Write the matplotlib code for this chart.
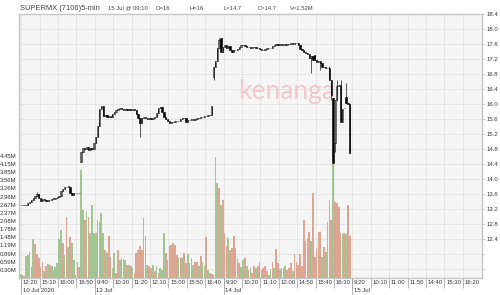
import matplotlib
matplotlib.use('Agg')
import matplotlib.pyplot as plt
from matplotlib.transforms import ScaledTranslation
import numpy as np

plt.rcParams['font.family'] = ['Liberation Sans', 'DejaVu Sans']

# ---- data: 5-min bars, 10 Jul 12:15 .. 15 Jul 09:10 ----
open_px = [
    # 10 Jul
    13.30, 13.32, 13.30, 13.30, 13.32, 13.36, 13.40, 13.44, 13.50, 13.54,
    13.60, 13.50, 13.42, 13.48, 13.44, 13.42, 13.44, 13.44, 13.48, 13.48,
    13.50, 13.52, 13.56, 13.68, 13.74, 13.78, 13.80, 13.80, 13.64, 13.58,
    13.62, 13.64, 13.62,
    # 13 Jul
    14.46, 14.72, 14.82, 14.80, 14.86, 14.78, 14.82, 14.80, 14.96, 15.12,
    15.42, 15.88, 15.94, 15.68, 15.70, 15.66, 15.68, 15.66, 15.74, 15.78,
    15.84, 15.86, 15.90, 15.86, 15.84, 15.86, 15.84, 15.86, 15.84, 15.86,
    15.84, 15.74, 15.62, 15.50, 15.62, 15.66, 15.62, 15.60, 15.62, 15.60,
    15.62, 15.66, 15.76, 15.90, 15.92, 15.78, 15.66, 15.60, 15.54, 15.50,
    15.52, 15.52, 15.54, 15.54, 15.56, 15.60, 15.62, 15.62, 15.52, 15.58,
    15.58, 15.60, 15.58, 15.60, 15.62, 15.62, 15.66, 15.66, 15.68, 15.68,
    15.70, 15.70,
    # 14 Jul
    16.72, 17.00, 17.16, 17.50, 17.76, 17.38, 17.52, 17.58, 17.50, 17.54,
    17.44, 17.38, 17.44, 17.44, 17.46, 17.52, 17.58, 17.58, 17.54, 17.52,
    17.52, 17.50, 17.52, 17.52, 17.50, 17.50, 17.46, 17.44, 17.44, 17.46,
    17.50, 17.50, 17.50, 17.54, 17.58, 17.60, 17.58, 17.60, 17.58, 17.60,
    17.58, 17.60, 17.60, 17.62, 17.60, 17.62, 17.62, 17.58, 17.46, 17.44,
    17.38, 17.36, 17.34, 17.22, 17.28, 17.30, 17.18, 17.12, 17.14, 17.10,
    17.00, 16.98, 16.96, 16.96, 16.64, 16.16, 14.96, 16.10, 16.48, 16.52,
    15.52, 15.90,
    # 15 Jul
    16.18, 16.02, 16.00,
]
close_px = [
    # 10 Jul
    13.32, 13.30, 13.30, 13.32, 13.36, 13.40, 13.44, 13.50, 13.54, 13.60,
    13.50, 13.42, 13.48, 13.44, 13.42, 13.44, 13.44, 13.48, 13.48, 13.50,
    13.52, 13.56, 13.68, 13.74, 13.78, 13.80, 13.80, 13.64, 13.58, 13.62,
    13.64, 13.62, 13.62,
    # 13 Jul
    14.72, 14.82, 14.80, 14.86, 14.78, 14.82, 14.80, 14.96, 15.12, 15.42,
    15.88, 15.94, 15.68, 15.70, 15.66, 15.68, 15.66, 15.74, 15.78, 15.84,
    15.86, 15.90, 15.86, 15.84, 15.86, 15.84, 15.86, 15.84, 15.86, 15.84,
    15.74, 15.62, 15.50, 15.62, 15.66, 15.62, 15.60, 15.62, 15.60, 15.62,
    15.66, 15.76, 15.90, 15.92, 15.78, 15.66, 15.60, 15.54, 15.50, 15.52,
    15.52, 15.54, 15.54, 15.56, 15.60, 15.62, 15.62, 15.52, 15.58, 15.58,
    15.60, 15.58, 15.60, 15.62, 15.62, 15.66, 15.66, 15.68, 15.68, 15.70,
    15.70, 15.94,
    # 14 Jul
    17.00, 17.16, 17.50, 17.70, 17.38, 17.52, 17.58, 17.50, 17.54, 17.44,
    17.38, 17.44, 17.44, 17.46, 17.52, 17.58, 17.58, 17.54, 17.52, 17.52,
    17.50, 17.52, 17.52, 17.50, 17.50, 17.46, 17.44, 17.44, 17.46, 17.50,
    17.50, 17.50, 17.54, 17.58, 17.60, 17.58, 17.60, 17.58, 17.60, 17.58,
    17.60, 17.60, 17.62, 17.60, 17.62, 17.62, 17.58, 17.46, 17.44, 17.38,
    17.36, 17.34, 17.22, 17.28, 17.18, 17.18, 17.12, 17.14, 17.10, 17.00,
    16.98, 16.96, 16.96, 16.64, 16.24, 14.44, 16.10, 16.48, 16.52, 15.52,
    15.88, 15.90,
    # 15 Jul
    16.02, 16.00, 14.70,
]
# bars whose high/low reach past the body: index -> (high, low)
wicks = {9: (13.66, 13.54), 65: (15.62, 15.12), 105: (17.00, 16.64),
         108: (17.76, 17.50), 158: (17.28, 16.82), 163: (17.14, 16.90),
         168: (17.02, 16.64), 169: (16.64, 16.10), 170: (16.16, 14.43),
         171: (16.10, 14.72), 172: (16.64, 16.10), 174: (16.64, 15.52),
         177: (16.56, 16.02), 179: (16.00, 14.70)}

vol_m = [
    # 10 Jul
    0.14, 0.12, 0.09, 0.81, 0.85, 0.96, 0.39, 1.41, 1.24, 0.88,
    0.72, 0.39, 0.60, 0.27, 0.42, 0.51, 0.47, 0.44, 0.30, 0.39,
    0.54, 1.41, 1.73, 1.27, 0.85, 2.21, 1.14, 1.48, 1.29, 0.66,
    0.12, 0.60, 0.39,
    # 13 Jul
    3.93, 2.48, 2.11, 2.42, 2.23, 1.63, 2.66, 1.63, 1.63, 2.11,
    2.05, 2.36, 1.63, 1.02, 0.90, 1.51, 0.78, 0.36, 0.90, 0.18,
    1.02, 0.66, 0.72, 0.69, 0.66, 0.48, 0.48, 0.42, 0.36, 0.18,
    0.90, 1.02, 1.15, 1.02, 2.20, 1.51, 0.48, 0.42, 0.36, 0.48,
    0.24, 0.42, 0.18, 0.36, 0.30, 1.63, 0.90, 0.66, 1.15, 1.20,
    1.27, 1.20, 0.84, 0.72, 0.78, 0.72, 0.90, 0.54, 0.88, 0.54,
    0.72, 0.48, 0.60, 0.57, 0.45, 0.81, 0.60, 0.45, 1.49, 0.30,
    0.20, 0.15,
    # 14 Jul
    0.10, 4.41, 3.45, 3.27, 2.66, 2.84, 1.63, 1.15, 1.45, 1.02,
    1.08, 1.51, 1.08, 0.72, 0.54, 0.39, 0.66, 0.72, 0.42, 0.30,
    0.39, 0.18, 0.42, 0.36, 0.42, 0.60, 0.30, 0.36, 0.42, 0.24,
    0.12, 0.30, 0.60, 0.36, 1.05, 0.54, 0.33, 0.36, 0.36, 0.42,
    0.30, 0.36, 0.54, 0.24, 0.88, 0.60, 0.48, 0.88, 0.42, 2.11,
    1.33, 1.45, 1.69, 1.33, 3.08, 0.78, 1.08, 1.69, 1.69, 0.78,
    1.14, 0.96, 2.02, 2.84, 2.11, 4.18, 2.78, 2.72, 2.60, 1.63,
    1.60, 1.63,
    # 15 Jul
    1.60, 2.66, 1.52,
]
# G = up volume, S = down volume
vol_dir = ("GSSGGGSGSSSSSGSGSGSGGGGSGSGSGGSGS"
           "GGSGSGGGGSGGGSGSSGGSSGGSGSGSGSSSSSSSGSSGSGSGGGSSSSSSSGSGSSGSSGSSGSGGSGS"
           "SGGGSGSSSGSSSSGSGGSGSGSSGSSGSSSGGSGSSGSSGSSSGSSSSSSGSSGSSSSSGSGSGSGSSS"
           "SGS")

time_labels = ['12:20', '15:10', '16:00', '16:50', '9:40', '10:30', '11:20',
               '12:10', '15:00', '15:50', '16:40', '9:30', '10:20', '11:10',
               '12:00', '14:50', '15:40', '16:30', '9:20', '10:10', '11:00',
               '11:50', '14:40', '15:30', '16:20']
date_labels = {0: '10 Jul 2020', 4: '13 Jul', 11: '14 Jul', 18: '15 Jul'}

price_ticks = [12.4, 12.8, 13.2, 13.6, 14.0, 14.4, 14.8, 15.2, 15.6, 16.0,
               16.4, 16.8, 17.2, 17.6, 18.0, 18.4]
vol_ticks = [0.30, 0.59, 0.89, 1.19, 1.48, 1.78, 2.08, 2.37, 2.67, 2.96,
             3.26, 3.56, 3.85, 4.15, 4.45]

header = [('SUPERMX (7106)5-min', 20, 5.4), ('15 Jul @ 09:10', 108, 4.2),
          ('O=16', 156, 4.2), ('H=16', 190, 4.2), ('L=14.7', 224, 4.2),
          ('C=14.7', 258, 4.2), ('V=1.52M', 290, 4.2)]

# ---- figure ----
fig = plt.figure(figsize=(5, 2.95), dpi=100)
pos = [18.5 / 500, 17 / 295, 463.5 / 500, 264 / 295]
ax = fig.add_axes(pos)
axv = ax.twinx()
axc = ax.twinx()

n = len(close_px)
xs = np.arange(n)
o = np.array(open_px)
c = np.array(close_px)

grid_col = '#e3e3e3'
frame_col = '#c4c4c4'
txt_col = '#333333'

ax.set_facecolor('#f5f5f5')
ax.set_xlim(-1.02, 250.9)
ax.set_ylim(11.36, 18.4)

# price axis (right)
ax.yaxis.tick_right()
ax.set_yticks([11.6, 12.0] + price_ticks)
ax.set_yticklabels(['', ''] + ['%.1f' % p for p in price_ticks])
ax.tick_params(axis='y', length=2, width=0.5, color=frame_col, pad=1,
               labelsize=4.3, labelcolor=txt_col)

# time axis, with a second row for the day starts
tick_pos = np.arange(len(time_labels)) * 10 + 0.5
ax.xaxis.remove_overlapping_locs = False
ax.set_xticks(tick_pos)
ax.set_xticklabels(time_labels)
ax.set_xticks([tick_pos[i] for i in date_labels], minor=True)
ax.set_xticklabels(list(date_labels.values()), minor=True)
ax.tick_params(axis='x', length=7.2, width=0.5, color='#999999', pad=-5.6,
               labelsize=4.3, labelcolor=txt_col)
ax.tick_params(axis='x', which='minor', length=12.5, width=0.5,
               color='#999999', pad=-5.2, labelsize=4.3, labelcolor=txt_col)

ax.grid(True, color=grid_col, linewidth=0.6)
ax.set_axisbelow(True)

# watermark
ax.text(0.579, 0.705, 'kenanga', transform=ax.transAxes, ha='center',
        va='center', fontsize=19, color='#f0c8ce', family='Lato', zorder=1)

# volume (left)
vol_cols = ['#a3c594' if d == 'G' else '#dca692' for d in vol_dir]
axv.bar(xs, vol_m, width=0.92, color=vol_cols, linewidth=0)
axv.set_ylim(0, 9.6)
axv.yaxis.tick_left()
axv.set_yticks(vol_ticks)
axv.set_yticklabels(['%.2fM' % v for v in vol_ticks])
axv.tick_params(axis='y', length=0, pad=1.3, labelsize=4.3,
                labelcolor=txt_col)

# candles
axc.set_ylim(11.36, 18.4)
axc.set_yticks([])
hi = np.maximum(o, c)
lo = np.minimum(o, c)
for k, (h, l) in wicks.items():
    hi[k] = max(hi[k], h)
    lo[k] = min(lo[k], l)
axc.vlines(xs, lo, hi, color='black', linewidth=0.45)
faces = ['white' if cc > oo else 'black' for oo, cc in zip(o, c)]
axc.bar(xs, np.maximum(np.abs(c - o), 0.004), bottom=np.minimum(o, c),
        width=0.72, color=faces, edgecolor='black', linewidth=0.4)

for a in (ax, axv, axc):
    for sp in a.spines.values():
        sp.set_color(frame_col)
        sp.set_linewidth(0.8)

for text, px, size in header:
    fig.text(px / 500, 1 - 8 / 295, text, ha='left', va='center',
             fontsize=size, color='#444444')

# left-align tick labels just right of their tick line
fig.canvas.draw()
shift = ScaledTranslation(1.6 / 100, 0, fig.dpi_scale_trans)
for t in ax.xaxis.get_major_ticks() + ax.xaxis.get_minor_ticks():
    t.label1.set_horizontalalignment('left')
    t.label1.set_transform(t.label1.get_transform() + shift)

fig.savefig('out.png', dpi=100, facecolor='white')
